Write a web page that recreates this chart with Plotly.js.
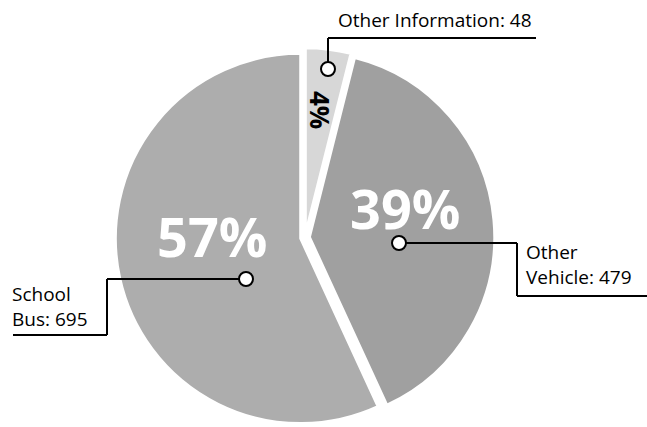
<!DOCTYPE html>
<html>
<head>
<meta charset="utf-8">
<script src="https://cdn.plot.ly/plotly-3.0.1.min.js"></script>
<style>html,body{margin:0;padding:0;background:#fff;}#chart{width:647px;height:427px;}</style>
</head>
<body>
<div id="chart"></div>
<script>
// ---- data ----
const labels = ['Other Information', 'Other Vehicle', 'School Bus'];
const values = [48, 479, 695];
const colors = ['#d7d7d7', '#a0a0a0', '#adadad'];

// ---- layout helpers (pixel -> paper) ----
const Wd = 647, Ht = 427;
const M = {l: 0, r: 37, t: 48, b: 0};
const PW = Wd - M.l - M.r, PH = Ht - M.t - M.b;
const px = x => (x - M.l) / PW;
const py = y => (Ht - M.b - y) / PH;

const total = values.reduce((a, b) => a + b, 0);
const pct = values.map(v => Math.round(v / total * 100) + '%');
const labelText = labels.map((l, i) => {
  const parts = l.split(' ');
  if (l === 'Other Information') return l + ': ' + values[i];
  return parts[0] + '<br>' + parts.slice(1).join(' ') + ': ' + values[i];
});

const trace = {
  type: 'pie',
  labels: labels,
  values: values,
  sort: false,
  direction: 'clockwise',
  rotation: 0,
  pull: [0.025, 0.025, 0.025],
  marker: {colors: colors, line: {color: '#ffffff', width: 2.5}},
  textinfo: 'none',
  hoverinfo: 'label+value+percent',
  showlegend: false
};

// percent labels
const pctPos = [
  {x: 320, y: 110, size: 26, color: '#000000', angle: 90},
  {x: 405, y: 208, size: 54, color: '#ffffff', angle: 0},
  {x: 212, y: 236, size: 54, color: '#ffffff', angle: 0}
];
const annotations = pctPos.map((p, i) => ({
  xref: 'paper', yref: 'paper', x: px(p.x), y: py(p.y),
  xanchor: 'center', yanchor: 'middle', showarrow: false,
  text: '<b>' + pct[i] + '</b>', textangle: p.angle,
  font: {family: 'Open Sans, sans-serif', size: p.size, color: p.color}
}));

// category labels
const labPos = [
  {x: 534, y: 20, xa: 'right'},
  {x: 524, y: 264, xa: 'left'},
  {x: 10, y: 306, xa: 'left'}
];
labPos.forEach((p, i) => annotations.push({
  xref: 'paper', yref: 'paper', x: px(p.x), y: py(p.y),
  xanchor: p.xa, yanchor: 'middle', showarrow: false, align: 'left',
  text: labelText[i],
  font: {family: 'Open Sans, sans-serif', size: 19, color: '#000000'}
}));

// leader lines (pixel paths)
const leaders = [
  [[328, 69], [328, 38], [536, 38]],
  [[399, 243], [517, 243], [517, 296], [647, 296]],
  [[246, 279], [107, 279], [107, 335], [13, 335]]
];
const shapes = [];
leaders.forEach(pts => {
  for (let k = 0; k < pts.length - 1; k++) {
    shapes.push({type: 'line', xref: 'paper', yref: 'paper',
      x0: px(pts[k][0]), y0: py(pts[k][1]), x1: px(pts[k+1][0]), y1: py(pts[k+1][1]),
      line: {color: '#000000', width: 2}});
  }
  const c = pts[0], rr = 7;
  shapes.push({type: 'circle', xref: 'paper', yref: 'paper',
    x0: px(c[0] - rr), x1: px(c[0] + rr), y0: py(c[1] + rr), y1: py(c[1] - rr),
    fillcolor: '#ffffff', line: {color: '#000000', width: 2}, layer: 'above'});
});

const layout = {
  width: Wd, height: Ht,
  margin: M,
  paper_bgcolor: '#ffffff',
  plot_bgcolor: '#ffffff',
  annotations: annotations,
  shapes: shapes,
  showlegend: false
};

Plotly.newPlot('chart', [trace], layout, {displayModeBar: false, staticPlot: true});
</script>
</body>
</html>
